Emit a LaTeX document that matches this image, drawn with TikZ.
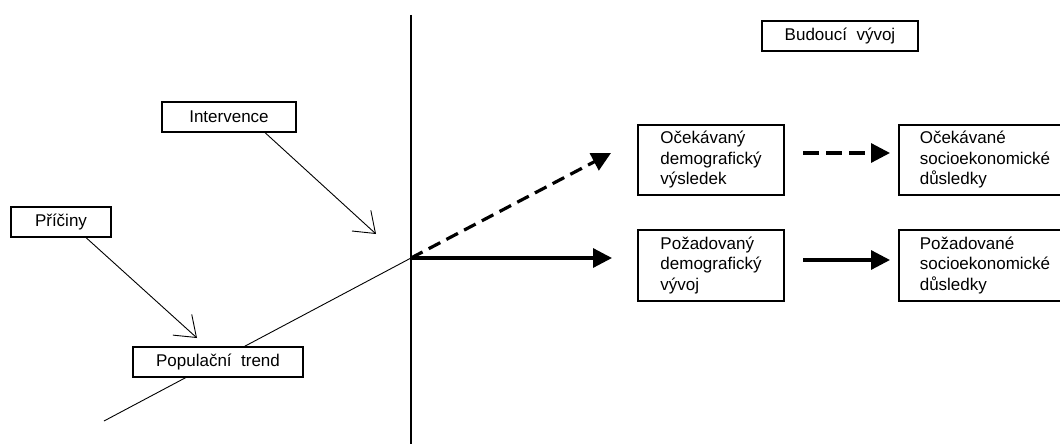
\documentclass[tikz,border=0pt]{standalone}
\usepackage{fontspec}
\setmainfont{Liberation Sans}
\usetikzlibrary{arrows.meta,calc}
\begin{document}
\begin{tikzpicture}[x=1pt,y=-1pt,
  box/.style={draw, line width=1.2pt, fill=white, font=\fontsize{17}{20.5}\selectfont, inner sep=0pt},
  thinline/.style={line width=0.9pt},
  barb/.style={thinline, -{Straight Barb[length=19pt,width=28pt]}},
  thickarrow/.style={line width=3.2pt, -{Triangle[length=19pt,width=19pt]}},
  dasharrow/.style={thickarrow, dash pattern=on 13pt off 7pt}]
\useasboundingbox (0,0) rectangle (1060,444);
\coordinate (vtop) at (411,15);
\coordinate (vbot) at (411,446);
\coordinate (J) at (411,258);
\coordinate (t0) at (104,421);
\draw[line width=1.6pt] (vtop) -- (vbot);
\draw[thinline] (t0) -- (J);
\node[box, minimum width=134pt, minimum height=30pt] (int) at (229,117) {Intervence};
\node[box, minimum width=100pt, minimum height=30pt] (pric) at (61,222) {Příčiny};
\node[box, minimum width=170pt, minimum height=30pt] (pop) at (218,362) {Populační\ \ trend};
\node[box, minimum width=156pt, minimum height=30pt] (bud) at (840,36) {Budoucí\ \ vývoj};
\node[box, align=left, minimum width=146pt, minimum height=70pt] (ocd) at (711,160) {Očekávaný\\demografický\\výsledek};
\node[box, align=left, minimum width=146pt, minimum height=71pt] (pod) at (711,265.5) {Požadovaný\\demografický\\vývoj};
\node[box, align=left, minimum width=172pt, minimum height=70pt] (ocs) at (985,160) {Očekávané\\socioekonomické\\důsledky};
\node[box, align=left, minimum width=172pt, minimum height=71pt] (pos) at (985,265.5) {Požadované\\socioekonomické\\důsledky};
\coordinate (intTip) at (376,234);
\coordinate (pricTip) at (197,338);
\draw[barb] ($(int.south)+(36,0)$) -- (intTip);
\draw[barb] ($(pric.south)+(25,0)$) -- (pricTip);
\coordinate (dTip) at (611,153);
\coordinate (sTip) at (612,258);
\draw[dasharrow] (J) -- (dTip);
\draw[thickarrow] (J) -- (sTip);
\coordinate (m1a) at (803,153);
\coordinate (m1b) at (890,153);
\coordinate (m2a) at (803,260);
\coordinate (m2b) at (890,260);
\draw[thickarrow, dash pattern=on 16pt off 7pt] (m1a) -- (m1b);
\draw[thickarrow] (m2a) -- (m2b);
\end{tikzpicture}
\end{document}
